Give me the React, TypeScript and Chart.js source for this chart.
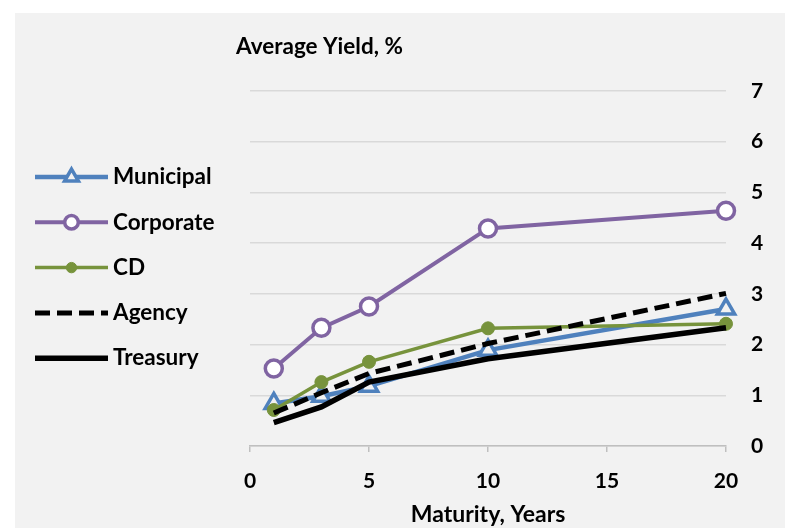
import React, { useEffect, useRef } from 'react';
import { Chart, registerables } from 'chart.js';

Chart.register(...registerables);

const FONT = 'Lato, "Open Sans", sans-serif';

// Data (years to maturity vs average yield, %)
const maturities = [1, 3, 5, 10, 20];
const municipal = [0.84, 0.98, 1.18, 1.89, 2.7];
const corporate = [1.53, 2.33, 2.75, 4.29, 4.64];
const cd = [0.71, 1.26, 1.66, 2.32, 2.41];
const agency = [0.65, 1.05, 1.43, 2.02, 3.01];
const treasury = [0.46, 0.77, 1.26, 1.72, 2.33];

const seriesNames = ['Municipal', 'Corporate', 'CD', 'Agency', 'Treasury'];
const yAxisTitle = 'Average Yield, %';
const xAxisTitle = 'Maturity, Years';
const xMin = 0;
const xMax = 20;
const xStep = 5;
const yMin = 0;
const yMax = 7;
const yStep = 1;

const toPoints = (ys: number[]) => maturities.map((x, i) => ({ x, y: ys[i] }));

function drawMarker(
  ctx: CanvasRenderingContext2D,
  style: string,
  x: number,
  y: number,
  r: number,
  fill: string,
  stroke: string,
  bw: number
) {
  ctx.beginPath();
  if (style === 'triangle') {
    let rad = 0;
    ctx.moveTo(x + Math.sin(rad) * r, y - Math.cos(rad) * r);
    rad += (2 * Math.PI) / 3;
    ctx.lineTo(x + Math.sin(rad) * r, y - Math.cos(rad) * r);
    rad += (2 * Math.PI) / 3;
    ctx.lineTo(x + Math.sin(rad) * r, y - Math.cos(rad) * r);
    ctx.closePath();
  } else {
    ctx.arc(x, y, r, 0, Math.PI * 2);
  }
  ctx.fillStyle = fill;
  ctx.fill();
  if (bw > 0) {
    ctx.lineWidth = bw;
    ctx.strokeStyle = stroke;
    ctx.stroke();
  }
}

const bgPlugin = {
  id: 'bgPlugin',
  beforeDraw(chart: any) {
    const { ctx, width, height } = chart;
    ctx.save();
    ctx.fillStyle = '#ffffff';
    ctx.fillRect(0, 0, width, height);
    ctx.fillStyle = '#f2f2f2';
    ctx.fillRect(15, 13, width - 15, height - 13);
    ctx.restore();
  },
};

const decorPlugin = {
  id: 'decorPlugin',
  afterDraw(chart: any) {
    const ctx: CanvasRenderingContext2D = chart.ctx;
    const area = chart.chartArea;
    ctx.save();
    ctx.fillStyle = '#000';
    ctx.textBaseline = 'middle';
    // y axis title (top-left)
    ctx.font = `bold 22.5px ${FONT}`;
    ctx.textAlign = 'left';
    ctx.fillText(yAxisTitle, 236, 47);

    // x axis title (bottom, centred on plot area)
    ctx.font = `bold 23px ${FONT}`;
    ctx.textAlign = 'center';
    ctx.fillText(xAxisTitle, (area.left + area.right) / 2, 515);

    // legend on the left
    const datasets = chart.data.datasets;
    datasets.forEach((ds: any, i: number) => {
      const y = 177 + i * 45.3;
      const x0 = 35;
      const x1 = 108;
      ctx.save();
      ctx.beginPath();
      ctx.lineWidth = ds.borderWidth;
      ctx.strokeStyle = ds.borderColor;
      ctx.lineCap = 'butt';
      if (ds.borderDash) ctx.setLineDash(ds.borderDash);
      ctx.moveTo(x0, y);
      ctx.lineTo(x1, y);
      ctx.stroke();
      ctx.setLineDash([]);
      if (ds.pointRadius > 0) {
        drawMarker(
          ctx,
          ds.pointStyle,
          (x0 + x1) / 2,
          y,
          ds.pointRadius * 0.8,
          ds.pointBackgroundColor,
          ds.pointBorderColor,
          ds.pointBorderWidth
        );
      }
      ctx.restore();
      ctx.font = `bold 22.5px ${FONT}`;
      ctx.fillStyle = '#000';
      ctx.textAlign = 'left';
      ctx.textBaseline = 'middle';
      ctx.fillText(ds.label, 113, y);
    });
    ctx.restore();
  },
};

export default function App() {
  const canvasRef = useRef<HTMLCanvasElement | null>(null);

  useEffect(() => {
    if (!canvasRef.current) return;
    const chart = new Chart(canvasRef.current, {
      type: 'line',
      data: {
        datasets: [
          {
            label: seriesNames[0],
            data: toPoints(municipal),
            borderColor: '#4f81bd',
            borderWidth: 4.5,
            pointStyle: 'triangle',
            pointRadius: 10,
            pointBackgroundColor: '#f2f2f2',
            pointBorderColor: '#4f81bd',
            pointBorderWidth: 3.5,
            tension: 0,
            order: 5,
            clip: false,
          },
          {
            label: seriesNames[1],
            data: toPoints(corporate),
            borderColor: '#8064a2',
            borderWidth: 4,
            pointStyle: 'circle',
            pointRadius: 8.5,
            pointBackgroundColor: '#ffffff',
            pointBorderColor: '#8064a2',
            pointBorderWidth: 3.5,
            tension: 0,
            order: 4,
            clip: false,
          },
          {
            label: seriesNames[2],
            data: toPoints(cd),
            borderColor: '#77933c',
            borderWidth: 3.5,
            pointStyle: 'circle',
            pointRadius: 6.5,
            pointBackgroundColor: '#77933c',
            pointBorderColor: '#77933c',
            pointBorderWidth: 1,
            tension: 0,
            order: 3,
            clip: false,
          },
          {
            label: seriesNames[3],
            data: toPoints(agency),
            borderColor: '#000000',
            borderWidth: 5,
            borderDash: [15, 7],
            pointRadius: 0,
            tension: 0,
            order: 2,
            clip: false,
          },
          {
            label: seriesNames[4],
            data: toPoints(treasury),
            borderColor: '#000000',
            borderWidth: 5.5,
            pointRadius: 0,
            tension: 0,
            order: 1,
            clip: false,
          },
        ] as any,
      },
      options: {
        animation: false,
        responsive: false,
        maintainAspectRatio: false,
        layout: { padding: { left: 250, top: 91, right: 0, bottom: 0 } },
        plugins: {
          legend: { display: false },
          tooltip: { enabled: false },
          title: { display: false },
        },
        scales: {
          x: {
            type: 'linear',
            position: 'bottom',
            min: xMin,
            max: xMax,
            ticks: {
              stepSize: xStep,
              color: '#000',
              font: { family: FONT, size: 21, weight: 'bold' },
              padding: 17,
            },
            grid: {
              display: true,
              drawOnChartArea: false,
              drawTicks: true,
              tickLength: 6,
              color: '#bfbfbf',
              lineWidth: 1.5,
            },
            border: { display: true, color: '#bfbfbf', width: 1.5 },
            title: { display: false },
            afterFit: (s: any) => {
              s.height = 82;
            },
          },
          y: {
            type: 'linear',
            position: 'right',
            min: yMin,
            max: yMax,
            ticks: {
              stepSize: yStep,
              color: '#000',
              font: { family: FONT, size: 21, weight: 'bold' },
              padding: 25,
            },
            grid: { color: '#d9d9d9', lineWidth: 1.5, drawTicks: false },
            border: { display: false },
            afterFit: (s: any) => {
              s.width = 59;
            },
          },
        } as any,
      },
      plugins: [bgPlugin, decorPlugin],
    });
    return () => chart.destroy();
  }, []);

  return (
    <div style={{ position: 'absolute', left: 0, top: 0, width: 785, height: 528 }}>
      <canvas ref={canvasRef} width={785} height={528} style={{ display: 'block' }} />
    </div>
  );
}
